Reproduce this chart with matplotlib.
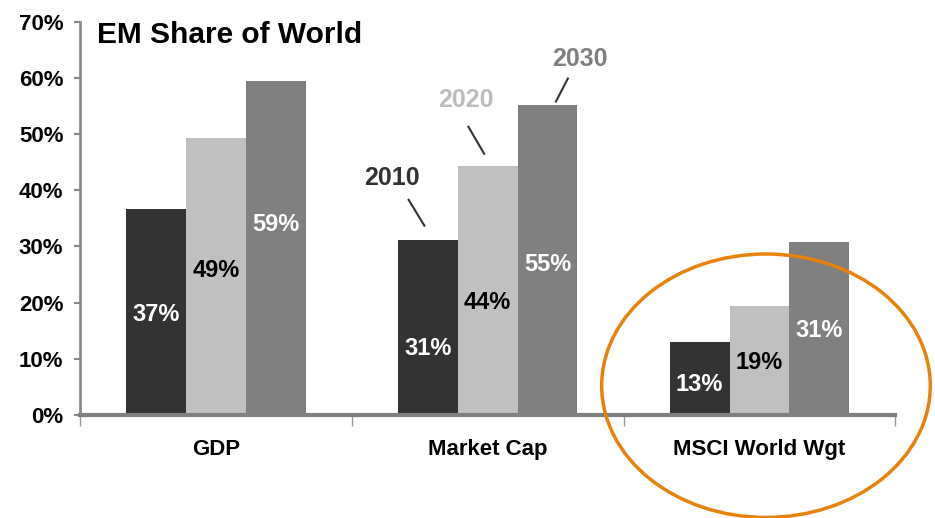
import matplotlib
matplotlib.use('Agg')
import matplotlib.pyplot as plt
from matplotlib.patches import Ellipse
import numpy as np

plt.rcParams['font.family'] = ['Liberation Sans', 'DejaVu Sans']
plt.rcParams['font.weight'] = 'bold'

categories = ['GDP', 'Market Cap', 'MSCI World Wgt']
years = ['2010', '2020', '2030']
share_2010 = [36.7, 31.2, 13.0]
share_2020 = [49.3, 44.4, 19.4]
share_2030 = [59.4, 55.1, 30.8]
y_ticks = [0, 10, 20, 30, 40, 50, 60, 70]

colors = ['#333333', '#c0c0c0', '#808080']
label_colors = ['white', 'black', 'white']
# where each value label sits, as a fraction of its bar height
label_frac = [[0.485, 0.38, 0.42],
              [0.52, 0.45, 0.48],
              [0.57, 0.485, 0.49]]

fig = plt.figure(figsize=(9.35, 5.18), dpi=100)
ax = fig.add_axes([0.0856, 0.199, 0.872, 0.759])

x = np.arange(len(categories))
bar_w = 0.22
series = [share_2010, share_2020, share_2030]
for i, vals in enumerate(series):
    pos = x + (i - 1) * bar_w
    bars = ax.bar(pos, vals, bar_w, color=colors[i], zorder=2)
    for j, bar in enumerate(bars):
        h = bar.get_height()
        ax.text(bar.get_x() + bar.get_width() / 2, h * label_frac[i][j], '%.0f%%' % h,
                ha='center', va='center', color=label_colors[i], fontsize=17, fontweight='bold')

ax.set_xlim(-0.5, 2.5)
ax.set_ylim(0, 70)
ax.set_yticks(y_ticks)
ax.set_yticklabels(['%d%%' % t for t in y_ticks], fontsize=16, fontweight='bold')
ax.set_xticks(x)
ax.set_xticklabels(categories, fontsize=16, fontweight='bold')
ax.set_xticks([-0.5, 0.5, 1.5, 2.5], minor=True)
ax.tick_params(axis='x', which='major', length=0, pad=17)
ax.tick_params(axis='x', which='minor', length=8, width=1, color='#999999', direction='out')
ax.tick_params(axis='y', length=4, width=1.5, color='#888888', pad=8)

for side in ['top', 'right']:
    ax.spines[side].set_visible(False)
ax.spines['left'].set_color('#8c8c8c')
ax.spines['left'].set_linewidth(2)
ax.spines['bottom'].set_color('#808080')
ax.spines['bottom'].set_linewidth(3)
ax.spines['bottom'].set_zorder(3)

# year callouts over the Market Cap group
callouts = [('2010', 0.647, 42.2, (0.709, 38.3), (0.767, 33.7), colors[0]),
            ('2020', 0.918, 56.1, (0.929, 51.3), (0.987, 46.5), '#bdbdbd'),
            ('2030', 1.339, 63.3, (1.295, 59.9), (1.251, 55.8), colors[2])]
for txt, tx, ty, p0, p1, c in callouts:
    ax.text(tx, ty, txt, ha='center', va='center', fontsize=18, fontweight='bold', color=c)
    ax.plot([p0[0], p1[0]], [p0[1], p1[1]], color='#333333', lw=1.5, clip_on=False)

fig.text(0.104, 0.917, 'EM Share of World', fontsize=21.5, fontweight='bold',
         ha='left', va='baseline', color='black')

# highlight ring round the MSCI group
ax.add_patch(Ellipse((2.024, 5.2), 1.209, 46.9, transform=ax.transData,
                     fill=False, ec='#e8820c', lw=2.5, clip_on=False, zorder=5))

fig.savefig('out.png', dpi=100)
